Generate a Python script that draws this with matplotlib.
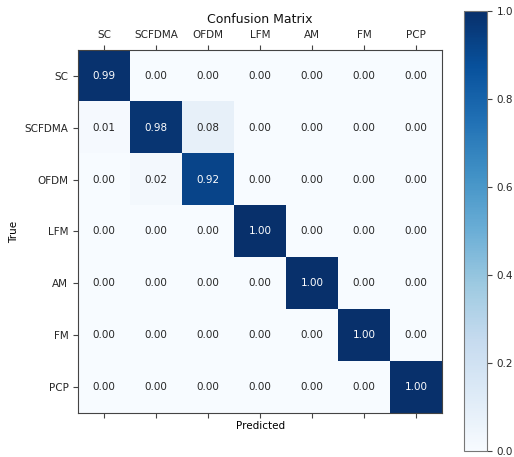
import numpy as np
import matplotlib
matplotlib.use('Agg')
import matplotlib.pyplot as plt

# classes et matrice normalisee
classes = ['SC', 'SCFDMA', 'OFDM', 'LFM', 'AM', 'FM', 'PCP']
cm = np.array([
    [0.99, 0.00, 0.00, 0.00, 0.00, 0.00, 0.00],
    [0.01, 0.98, 0.08, 0.00, 0.00, 0.00, 0.00],
    [0.00, 0.02, 0.92, 0.00, 0.00, 0.00, 0.00],
    [0.00, 0.00, 0.00, 1.00, 0.00, 0.00, 0.00],
    [0.00, 0.00, 0.00, 0.00, 1.00, 0.00, 0.00],
    [0.00, 0.00, 0.00, 0.00, 0.00, 1.00, 0.00],
    [0.00, 0.00, 0.00, 0.00, 0.00, 0.00, 1.00],
])

plt.rcParams['font.size'] = 7.5
plt.rcParams['axes.edgecolor'] = '#444444'
plt.rcParams['xtick.color'] = '#444444'
plt.rcParams['ytick.color'] = '#444444'
plt.rcParams['xtick.labelcolor'] = '#262626'
plt.rcParams['ytick.labelcolor'] = '#262626'

fig = plt.figure(figsize=(5.14, 4.57), dpi=100)
ax = fig.add_axes([0.152, 0.096, 0.708, 0.795])
cax = fig.add_axes([0.903, 0.014, 0.044, 0.962])

im = ax.imshow(cm, interpolation='nearest', cmap='Blues', vmin=0, vmax=1, aspect='auto')
cb = fig.colorbar(im, cax=cax)
cb.outline.set_edgecolor('#777777')
cb.ax.tick_params(labelsize=7.5, color='#444444')

ticks = np.arange(len(classes))
ax.set_xticks(ticks)
ax.set_yticks(ticks)
ax.set_yticklabels(classes)
ax.tick_params(axis='x', top=True, labeltop=True, bottom=True, labelbottom=False)
ax.set_xticklabels(classes)

for i in range(cm.shape[0]):
    for j in range(cm.shape[1]):
        ax.text(j, i, format(cm[i, j], '.2f'), ha='center', va='center',
                color='white' if cm[i, j] > 0.5 else '#262626', fontsize=7.5)

ax.set_title('Confusion Matrix', fontsize=9, pad=19, color='#111111')
ax.set_xlabel('Predicted', labelpad=2)
ax.set_ylabel('True')

fig.savefig('out.png', dpi=100)
